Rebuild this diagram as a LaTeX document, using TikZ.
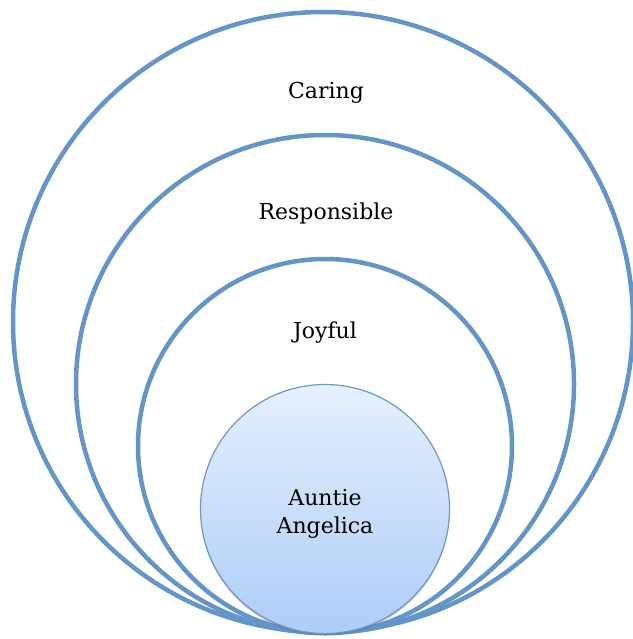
\documentclass[tikz,border=0pt]{standalone}
\usepackage{fontspec}
\setmainfont{DejaVu Serif}
\usetikzlibrary{shadows}
\definecolor{ringblue}{HTML}{6495C9}
\definecolor{coretop}{HTML}{E6F0FD}
\definecolor{corebot}{HTML}{AECDF8}
\definecolor{coreline}{HTML}{6C98CE}
\tikzset{
  ring/.style={circle, draw=ringblue, line width=4.5pt, inner sep=0pt},
  core/.style={circle, draw=coreline, line width=1.2pt, inner sep=0pt,
    top color=coretop, bottom color=corebot,
    drop shadow={shadow xshift=0pt, shadow yshift=-2pt, opacity=0.35, fill=black!60}},
  lbl/.style={font=\fontsize{22}{26}\selectfont, text=black, align=center}
}
\begin{document}
\begin{tikzpicture}[x=1pt, y=-1pt]
\useasboundingbox (0,0) rectangle (632,639);
\fill[white] (0,0) rectangle (632,639);
\node[ring, minimum size=620pt] (caring) at (323,322) {};
\node[ring, minimum size=498pt] (resp) at (325,384) {};
\node[ring, minimum size=374pt] (joy) at (325,446) {};
\node[core, minimum size=249pt] (core) at (325,509) {};
\node[lbl] (tcaring) at (326,93) {Caring};
\node[lbl] (tresp) at (326,213) {Responsible};
\node[lbl] (tjoy) at (325,333) {Joyful};
\node[lbl, font=\fontsize{22}{28}\selectfont] (tcore) at (325,514) {Auntie\\Angelica};
\end{tikzpicture}
\end{document}
